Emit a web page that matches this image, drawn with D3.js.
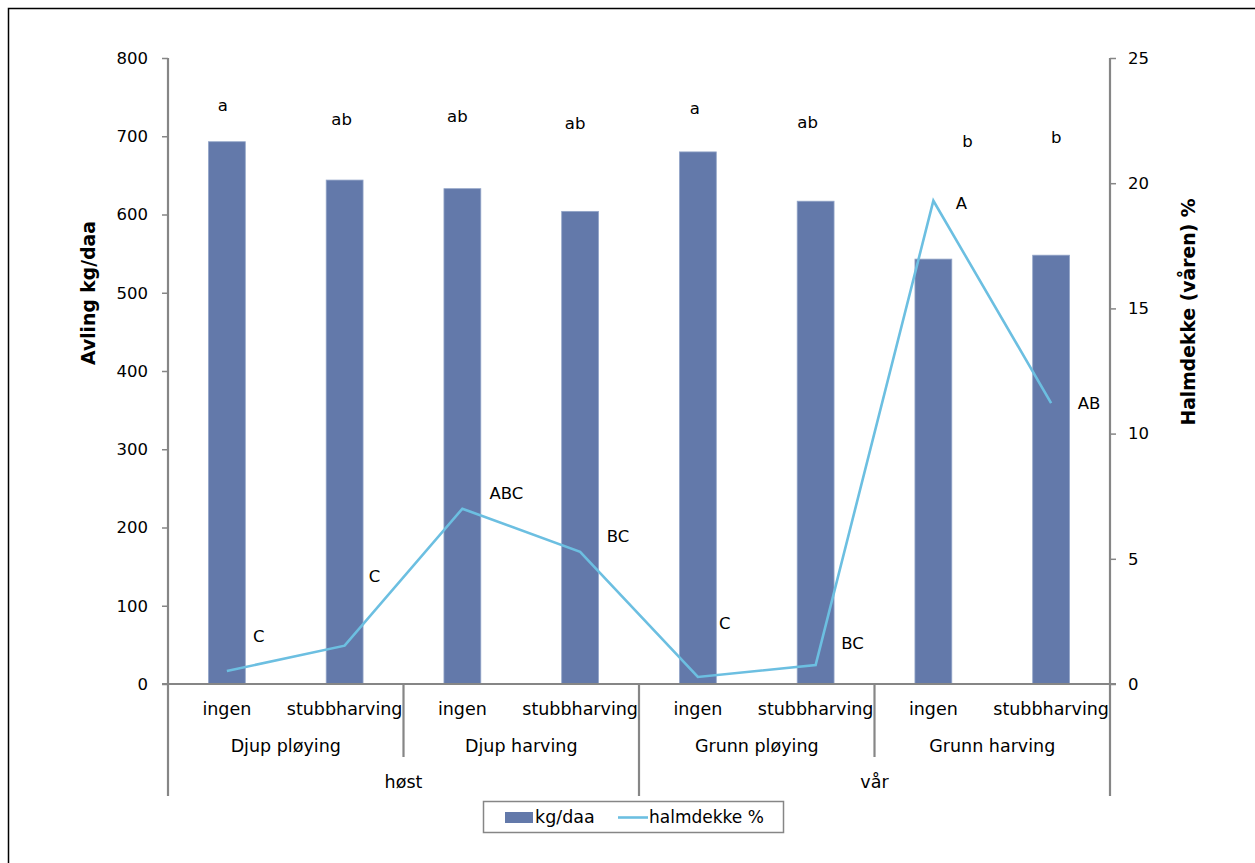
<!DOCTYPE html>
<html>
<head>
<meta charset="utf-8">
<script src="https://cdn.jsdelivr.net/npm/d3@7"></script>
<style>
  html, body { margin: 0; padding: 0; background: #fff; }
  svg { display: block; }
  text { font-family: "DejaVu Sans", Verdana, sans-serif; fill: #000; }
</style>
</head>
<body>
<svg id="chart" width="1255" height="863"></svg>
<script>
// Treatments: season > tillage > stubble treatment
const seasons = ["høst", "vår"];
const tillage = ["Djup pløying", "Djup harving", "Grunn pløying", "Grunn harving"];
const stubble = ["ingen", "stubbharving"];
const categories = [
  "Djup pløying|ingen", "Djup pløying|stubbharving",
  "Djup harving|ingen", "Djup harving|stubbharving",
  "Grunn pløying|ingen", "Grunn pløying|stubbharving",
  "Grunn harving|ingen", "Grunn harving|stubbharving"
];

// Yield (kg/daa) and straw cover in spring (%)
const yieldKg = [693, 644, 633, 604, 680, 617, 543, 548];
const strawCover = [0.52, 1.53, 7.0, 5.28, 0.28, 0.76, 19.3, 11.22];

// Significance letters
const yieldLetters = ["a", "ab", "ab", "ab", "a", "ab", "b", "b"];
const coverLetters = ["C", "C", "ABC", "BC", "C", "BC", "A", "AB"];

// Axis ticks
const leftTicks = [0, 100, 200, 300, 400, 500, 600, 700, 800];
const rightTicks = [0, 5, 10, 15, 20, 25];

// Label placement (pixel offsets)
const yieldLetterOffset = [[-4, 36], [-3, 61], [-5, 72], [-5, 88], [-3, 43], [-8, 79], [34, 118], [5, 118]];
const coverLetterOffset = [[32, -34], [30, -69], [44, -15], [38, -15], [27, -53], [37, -21], [28, 3], [38, 0]];

const barColor = "#6379aa";
const lineColor = "#6cbfe1";
const axisColor = "#868686";
const labelSize = 17.5;

const svg = d3.select("#chart");

// Outer frame
svg.append("rect")
  .attr("x", 8.5).attr("y", 8.5)
  .attr("width", 1300).attr("height", 900)
  .attr("fill", "none").attr("stroke", "#000").attr("stroke-width", 1.5);

const plotLeft = 168, plotRight = 1110, plotTop = 58, plotBottom = 684;

const x = d3.scaleBand().domain(categories).range([plotLeft, plotRight]).padding(0);
const yL = d3.scaleLinear().domain([0, 800]).range([plotBottom, plotTop]);
const yR = d3.scaleLinear().domain([0, 25]).range([plotBottom, plotTop]);

const barW = x.bandwidth() * 0.313;

// Bars
svg.append("g").selectAll("rect")
  .data(categories)
  .join("rect")
  .attr("x", (d) => x(d) + x.bandwidth() / 2 - barW / 2)
  .attr("y", (d, i) => yL(yieldKg[i]))
  .attr("width", barW)
  .attr("height", (d, i) => plotBottom - yL(yieldKg[i]))
  .attr("fill", barColor)
  .attr("stroke", "#93a5c8")
  .attr("stroke-width", 0.8);

// Left axis
const leftAxis = svg.append("g")
  .attr("transform", `translate(${plotLeft},0)`)
  .call(d3.axisLeft(yL).tickValues(leftTicks).tickSize(6).tickPadding(14));
// Right axis
const rightAxis = svg.append("g")
  .attr("transform", `translate(${plotRight},0)`)
  .call(d3.axisRight(yR).tickValues(rightTicks).tickSize(6).tickPadding(12));

[leftAxis, rightAxis].forEach((g) => {
  g.select(".domain").remove();
  g.selectAll(".tick line").attr("stroke", axisColor).attr("stroke-width", 1.5);
  g.selectAll(".tick text").attr("font-size", 16.5).style("font-family", '"DejaVu Sans", Verdana, sans-serif').attr("fill", "#000");
});

// Axis lines
const axisG = svg.append("g").attr("stroke", axisColor).attr("stroke-width", 2.2).attr("fill", "none");
axisG.append("line").attr("x1", plotLeft).attr("x2", plotLeft).attr("y1", plotTop).attr("y2", 796);
axisG.append("line").attr("x1", plotRight).attr("x2", plotRight).attr("y1", plotTop).attr("y2", 796);
axisG.append("line").attr("x1", plotLeft - 6).attr("x2", plotRight + 6).attr("y1", plotBottom).attr("y2", plotBottom);

// Category separators: tillage groups and season groups
const groupSize = stubble.length;
tillage.forEach((t, gi) => {
  if (gi === 0) return;
  const xb = x(categories[gi * groupSize]);
  const isSeason = gi % 2 === 0;
  axisG.append("line")
    .attr("x1", xb).attr("x2", xb)
    .attr("y1", plotBottom).attr("y2", isSeason ? 796 : 757);
});

// Category labels
const catLabels = svg.append("g").attr("font-size", labelSize).attr("text-anchor", "middle");
categories.forEach((c, i) => {
  catLabels.append("text")
    .attr("x", x(c) + x.bandwidth() / 2)
    .attr("y", 715)
    .text(stubble[i % groupSize]);
});
tillage.forEach((t, gi) => {
  const x0 = x(categories[gi * groupSize]);
  const x1 = x(categories[gi * groupSize + groupSize - 1]) + x.bandwidth();
  catLabels.append("text").attr("x", (x0 + x1) / 2).attr("y", 752).text(t);
});
seasons.forEach((s, si) => {
  const x0 = x(categories[si * groupSize * 2]);
  const x1 = x(categories[si * groupSize * 2 + groupSize * 2 - 1]) + x.bandwidth();
  catLabels.append("text").attr("x", (x0 + x1) / 2).attr("y", 788).text(s);
});

// Straw cover line
const line = d3.line()
  .x((d, i) => x(categories[i]) + x.bandwidth() / 2)
  .y((d) => yR(d));
svg.append("path")
  .datum(strawCover)
  .attr("d", line)
  .attr("fill", "none")
  .attr("stroke", lineColor)
  .attr("stroke-width", 2.6)
  .attr("stroke-linejoin", "miter");

// Letters above bars
const letters = svg.append("g").attr("font-size", 16.5).attr("text-anchor", "middle").attr("dominant-baseline", "central");
yieldLetters.forEach((l, i) => {
  letters.append("text")
    .attr("x", x(categories[i]) + x.bandwidth() / 2 + yieldLetterOffset[i][0])
    .attr("y", yL(yieldKg[i]) - yieldLetterOffset[i][1])
    .text(l);
});
// Letters beside line points
coverLetters.forEach((l, i) => {
  letters.append("text")
    .attr("x", x(categories[i]) + x.bandwidth() / 2 + coverLetterOffset[i][0])
    .attr("y", yR(strawCover[i]) + coverLetterOffset[i][1])
    .text(l);
});

// Axis titles
svg.append("text")
  .attr("transform", "translate(95,293) rotate(-90)")
  .attr("text-anchor", "middle")
  .attr("font-size", 18.8).attr("font-weight", "bold")
  .text("Avling kg/daa");
svg.append("text")
  .attr("transform", "translate(1195,312) rotate(-90)")
  .attr("text-anchor", "middle")
  .attr("font-size", 18.8).attr("font-weight", "bold")
  .text("Halmdekke (våren) %");

// Legend
const legend = svg.append("g");
legend.append("rect")
  .attr("x", 483.5).attr("y", 801.5).attr("width", 300).attr("height", 31)
  .attr("fill", "#fff").attr("stroke", axisColor).attr("stroke-width", 1.5);
legend.append("rect")
  .attr("x", 505).attr("y", 812).attr("width", 28).attr("height", 11)
  .attr("fill", barColor);
legend.append("text").attr("x", 535).attr("y", 823).attr("font-size", 17.5).text("kg/daa");
legend.append("line")
  .attr("x1", 618).attr("x2", 648).attr("y1", 817.5).attr("y2", 817.5)
  .attr("stroke", lineColor).attr("stroke-width", 2.6);
legend.append("text").attr("x", 649).attr("y", 823).attr("font-size", 17).text("halmdekke %");
</script>
</body>
</html>
